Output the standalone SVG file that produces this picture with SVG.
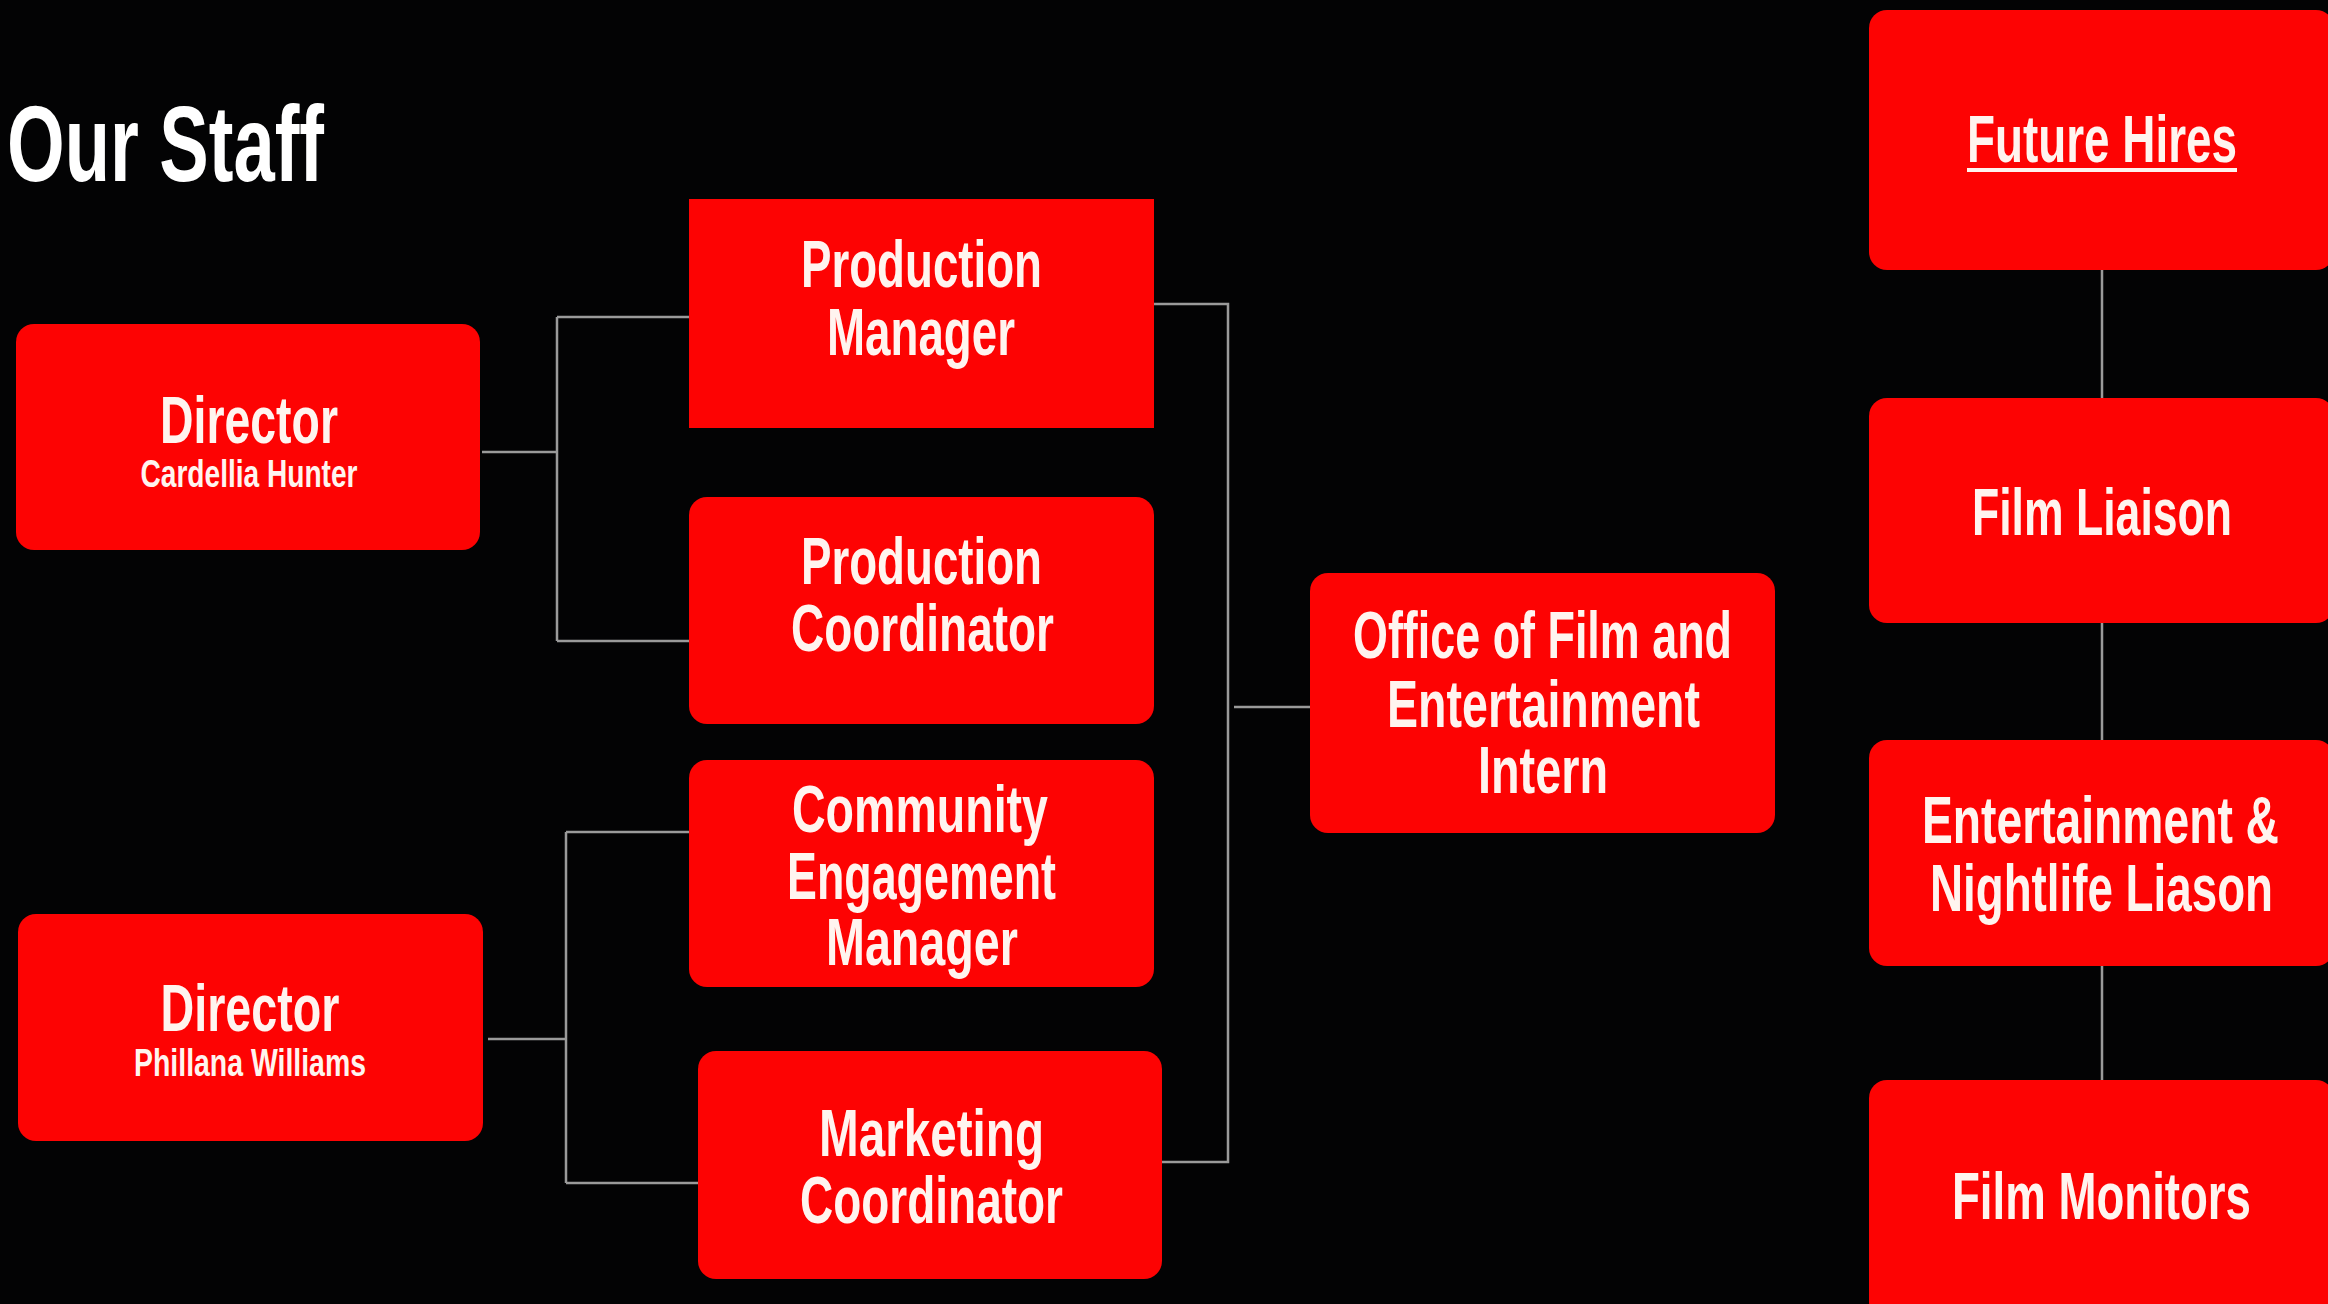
<svg xmlns="http://www.w3.org/2000/svg" width="2328" height="1304" viewBox="0 0 2328 1304">
<style>
.bg{fill:#030304}
.box{fill:#fd0303}
.lbl{font-family:"Liberation Sans",Arial,sans-serif;font-size:66px;font-weight:bold;fill:#fff4ef;text-anchor:middle}
.sub{font-family:"Liberation Sans",Arial,sans-serif;font-size:38px;font-weight:bold;fill:#fff4ef;text-anchor:middle}
.title{font-family:"Liberation Sans",Arial,sans-serif;font-size:108px;font-weight:bold;fill:#ffffff}
.conn{fill:none;stroke:#9a9a9a;stroke-width:2.5}
</style>
<rect class="bg" x="0" y="0" width="2328" height="1304"/>
<text class="title" x="7" y="181" textLength="317" lengthAdjust="spacingAndGlyphs">Our Staff</text>
<g id="connectors">
<path class="conn" d="M482,452 H557 M557,317 V641 M557,317 H689 M557,641 H689"/>
<path class="conn" d="M488,1039 H566 M566,832 V1183 M566,832 H689 M566,1183 H698"/>
<path class="conn" d="M1153,304 H1228 V1162 H1162 M1234,707 H1310"/>
<path class="conn" d="M2102,270 V398 M2102,623 V740 M2102,966 V1080"/>
</g>
<g id="director1">
<rect class="box" x="16" y="324" width="464" height="226" rx="18"/>
<text class="lbl" x="249" y="443" textLength="178" lengthAdjust="spacingAndGlyphs">Director</text>
<text class="sub" x="249" y="487" textLength="217" lengthAdjust="spacingAndGlyphs">Cardellia Hunter</text>
</g>
<g id="director2">
<rect class="box" x="18" y="914" width="465" height="227" rx="18"/>
<text class="lbl" x="250" y="1031" textLength="179" lengthAdjust="spacingAndGlyphs">Director</text>
<text class="sub" x="250" y="1076" textLength="232" lengthAdjust="spacingAndGlyphs">Phillana Williams</text>
</g>
<g id="production-manager">
<rect class="box" x="689" y="199" width="465" height="229"/>
<text class="lbl" x="921.5" y="287" textLength="241" lengthAdjust="spacingAndGlyphs">Production</text>
<text class="lbl" x="921" y="355" textLength="188" lengthAdjust="spacingAndGlyphs">Manager</text>
</g>
<g id="production-coordinator">
<rect class="box" x="689" y="497" width="465" height="227" rx="18"/>
<text class="lbl" x="921.5" y="584" textLength="241" lengthAdjust="spacingAndGlyphs">Production</text>
<text class="lbl" x="922.5" y="651" textLength="263" lengthAdjust="spacingAndGlyphs">Coordinator</text>
</g>
<g id="community-engagement-manager">
<rect class="box" x="689" y="760" width="465" height="227" rx="18"/>
<text class="lbl" x="920" y="832" textLength="256" lengthAdjust="spacingAndGlyphs">Community</text>
<text class="lbl" x="921.5" y="899" textLength="269" lengthAdjust="spacingAndGlyphs">Engagement</text>
<text class="lbl" x="922" y="965" textLength="192" lengthAdjust="spacingAndGlyphs">Manager</text>
</g>
<g id="marketing-coordinator">
<rect class="box" x="698" y="1051" width="464" height="228" rx="18"/>
<text class="lbl" x="931.5" y="1156" textLength="225" lengthAdjust="spacingAndGlyphs">Marketing</text>
<text class="lbl" x="931.5" y="1223" textLength="263" lengthAdjust="spacingAndGlyphs">Coordinator</text>
</g>
<g id="intern">
<rect class="box" x="1310" y="573" width="465" height="260" rx="18"/>
<text class="lbl" x="1542.5" y="658" textLength="379" lengthAdjust="spacingAndGlyphs">Office of Film and</text>
<text class="lbl" x="1543.5" y="727" textLength="313" lengthAdjust="spacingAndGlyphs">Entertainment</text>
<text class="lbl" x="1543" y="793" textLength="130" lengthAdjust="spacingAndGlyphs">Intern</text>
</g>
<g id="future-hires">
<rect class="box" x="1869" y="10" width="465" height="260" rx="18"/>
<text class="lbl" x="2102" y="162" textLength="270" lengthAdjust="spacingAndGlyphs">Future Hires</text>
<rect x="1967" y="168" width="270" height="4" fill="#fff4ef"/>
</g>
<g id="film-liaison">
<rect class="box" x="1869" y="398" width="465" height="225" rx="18"/>
<text class="lbl" x="2102" y="535" textLength="260" lengthAdjust="spacingAndGlyphs">Film Liaison</text>
</g>
<g id="nightlife-liaison">
<rect class="box" x="1869" y="740" width="465" height="226" rx="18"/>
<text class="lbl" x="2100.5" y="843" textLength="357" lengthAdjust="spacingAndGlyphs">Entertainment &amp;</text>
<text class="lbl" x="2101.5" y="911" textLength="343" lengthAdjust="spacingAndGlyphs">Nightlife Liason</text>
</g>
<g id="film-monitors">
<rect class="box" x="1869" y="1080" width="465" height="240" rx="18"/>
<text class="lbl" x="2101.5" y="1219" textLength="299" lengthAdjust="spacingAndGlyphs">Film Monitors</text>
</g>
</svg>
